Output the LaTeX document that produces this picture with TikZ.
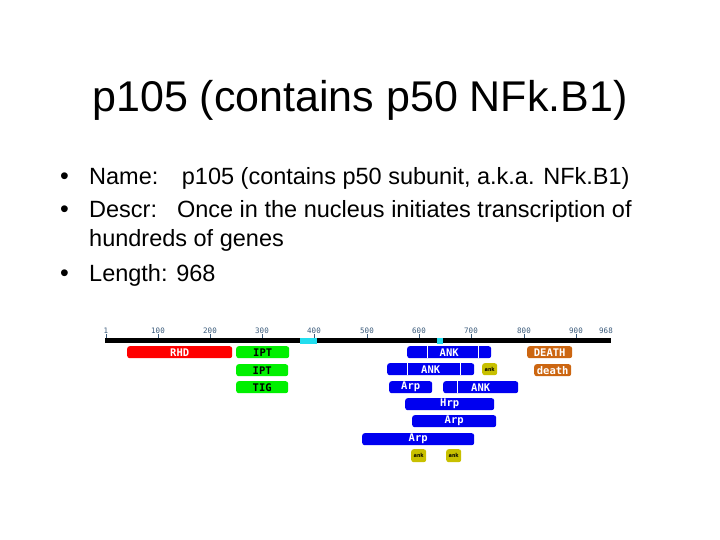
\documentclass[tikz,border=0pt]{standalone}
\usepackage{fontspec}
\setmainfont{Liberation Sans}
\newfontfamily\pixfont{DejaVu Sans Mono}
\definecolor{scalec}{HTML}{3A5A7A}
\definecolor{rhdc}{HTML}{FF0000}
\definecolor{iptc}{HTML}{00F000}
\definecolor{ankc}{HTML}{0000F0}
\definecolor{deathc}{HTML}{CC6611}
\definecolor{smallc}{HTML}{C8C000}
\definecolor{cyanc}{HTML}{22DDEE}
\tikzset{
  dom/.style={anchor=north west, rounded corners=2.5pt, inner sep=0pt, font=\pixfont\bfseries\fontsize{10.5}{10.5}\selectfont},
  smalldom/.style={dom, fill=smallc, text=black, minimum width=15pt, font=\pixfont\bfseries\fontsize{5.5}{5.5}\selectfont},
  scalelab/.style={font=\pixfont\fontsize{7.5}{7.5}\selectfont, text=scalec, anchor=south, inner sep=0pt},
  tickline/.style={draw=scalec, line width=0.8pt},
  bul/.style={anchor=base west, inner sep=0pt, font=\fontsize{23.5}{28}\selectfont},
  bulmark/.style={anchor=base west, inner sep=0pt, font=\fontsize{25}{28}\selectfont},
  repeatmark/.style={draw=white, line width=0.8pt}
}
\newcommand{\domain}[8]{% name x1 y1 x2 y2 fill text label
  \node[dom, fill=#6, text=#7, minimum width={(#4)-(#2)}, minimum height={(#5)-(#3)}] (#1) at (#2,#3) {#8};}
\begin{document}
\begin{tikzpicture}[x=1pt,y=-1pt]
\useasboundingbox (0,0) rectangle (720,540);
% title
\node[anchor=base, inner sep=0pt, font=\fontsize{43}{46}\selectfont] (title) at (360,112) {p105 (contains p50 NFk.B1)};
% bullets
\node[bulmark] (b1) at (60,185) {•};
\node[bul] (t1) at (89,185) {Name:\hspace{1em}p105 (contains p50 subunit, a.k.a. NFk.B1)};
\node[bulmark] (b2) at (60,218) {•};
\node[bul] (t2) at (89,218) {Descr:\hspace{0.85em}Once in the nucleus initiates transcription of};
\node[bul] (t2b) at (89,246) {hundreds of genes};
\node[bulmark] (b3) at (60,281) {•};
\node[bul] (t3) at (89,281) {Length: 968};
% scale
\foreach \x/\l in {106/1,158/100,210/200,262/300,314/400,367/500,419/600,471/700,524/800,576/900}{
  \node[scalelab] (s\l) at (\x,334) {\l};
  \draw[tickline] (s\l.south) -- ++(0,5);
}
\node[scalelab] (s968) at (606,334) {968};
% backbone
\node[fill=black, inner sep=0pt, minimum width=506pt, minimum height=5pt, anchor=north west] (backbone) at (105,338) {};
\node[fill=cyanc, inner sep=0pt, minimum width=17pt, minimum height=6pt, anchor=north west] (cy1) at (300,338) {};
\node[fill=cyanc, inner sep=0pt, minimum width=6pt, minimum height=6pt, anchor=north west] (cy2) at (437,338) {};
% domains
\domain{rhd}{127}{346}{232}{358}{rhdc}{white}{RHD}
\domain{ipt1}{236}{346}{289}{358}{iptc}{black}{IPT}
\domain{ipt2}{236}{364}{288}{376}{iptc}{black}{IPT}
\domain{tig}{236}{381}{288}{393}{iptc}{black}{TIG}
\domain{ank1}{407}{346}{491}{358}{ankc}{white}{ANK}
\domain{deathA}{527}{346}{572}{358}{deathc}{white}{DEATH}
\domain{ank2}{387}{363}{474}{375}{ankc}{white}{ANK}
\node[smalldom, minimum height=12pt] (anks1) at (482,363) {ank};
\domain{deathB}{534}{364}{571}{376}{deathc}{white}{death}
\domain{arp1}{389}{381}{432}{393}{ankc}{white}{Arp}
\domain{ank3}{443}{381}{518}{393}{ankc}{white}{ANK}
\domain{hrp}{405}{398}{494}{410}{ankc}{white}{Hrp}
\domain{arp2}{412}{415}{496}{427}{ankc}{white}{Arp}
\domain{arp3}{362}{433}{474}{445}{ankc}{white}{Arp}
\node[smalldom, minimum height=13pt] (anks2) at (411,449) {ank};
\node[smalldom, minimum height=13pt] (anks3) at (446,449) {ank};
% repeat separators
\draw[repeatmark] (427,346) -- (427,358);
\draw[repeatmark] (478,346) -- (478,358);
\draw[repeatmark] (407,363) -- (407,375);
\draw[repeatmark] (460,363) -- (460,375);
\draw[repeatmark] (457,381) -- (457,393);
\end{tikzpicture}
\end{document}
